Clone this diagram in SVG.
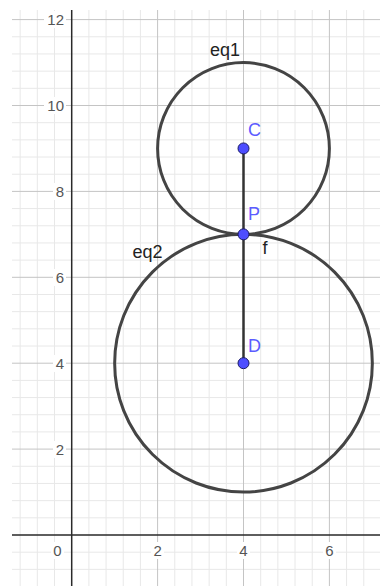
<svg xmlns="http://www.w3.org/2000/svg" width="380" height="586" viewBox="0 0 380 586">
<style>
.minor{stroke:#e8e8e8;stroke-width:1;fill:none}
.major{stroke:#c4c4c4;stroke-width:1;fill:none}
.axis{stroke:#2a2a2a;stroke-width:1.5;fill:none}
.tick{font-family:"Liberation Sans",Arial,sans-serif;font-size:15px;fill:#555}
.tbg{fill:#fff}
.curve{stroke:#444;stroke-width:3;fill:none}
.seg{stroke:#333;stroke-width:2.5;fill:none}
.pt{fill:#4d4dff;stroke:#1a1a66;stroke-width:1}
.plab{font-family:"Liberation Sans",Arial,sans-serif;font-size:18px;fill:#5c5cff}
.olab{font-family:"Liberation Sans",Arial,sans-serif;font-size:18px;fill:#222}
</style>
<rect width="380" height="586" fill="#fff"/>
<g id="grid">
<path class="minor" d="M20.16 10V586M37.34 10V586M54.52 10V586M88.88 10V586M106.06 10V586M123.24 10V586M140.42 10V586M174.78 10V586M191.96 10V586M209.14 10V586M226.32 10V586M260.68 10V586M277.86 10V586M295.04 10V586M312.22 10V586M346.58 10V586M363.76 10V586"/>
<path class="minor" d="M12 569.36H380M12 552.18H380M12 517.82H380M12 500.64H380M12 483.46H380M12 466.28H380M12 431.92H380M12 414.74H380M12 397.56H380M12 380.38H380M12 346.02H380M12 328.84H380M12 311.66H380M12 294.48H380M12 260.12H380M12 242.94H380M12 225.76H380M12 208.58H380M12 174.22H380M12 157.04H380M12 139.86H380M12 122.68H380M12 88.32H380M12 71.14H380M12 53.96H380M12 36.78H380"/>
<path class="major" d="M157.6 10V586M243.5 10V586M329.4 10V586M12 449.1H380M12 363.2H380M12 277.3H380M12 191.4H380M12 105.5H380M12 19.6H380"/>
<path class="axis" d="M71.7 10V586M12 535H380"/>
</g>
<g id="ticks">
<rect class="tbg" x="44" y="11" width="22" height="17"/>
<text class="tick" x="64" y="25.2" text-anchor="end">12</text>
<rect class="tbg" x="44" y="97" width="22" height="17"/>
<text class="tick" x="64" y="111.1" text-anchor="end">10</text>
<rect class="tbg" x="53" y="183" width="13" height="17"/>
<text class="tick" x="64" y="197" text-anchor="end">8</text>
<rect class="tbg" x="53" y="269" width="13" height="17"/>
<text class="tick" x="64" y="282.9" text-anchor="end">6</text>
<rect class="tbg" x="53" y="355" width="13" height="17"/>
<text class="tick" x="64" y="368.8" text-anchor="end">4</text>
<rect class="tbg" x="53" y="441" width="13" height="17"/>
<text class="tick" x="64" y="454.7" text-anchor="end">2</text>
<rect class="tbg" x="51" y="542" width="13" height="17"/>
<text class="tick" x="57.5" y="555.5" text-anchor="middle">0</text>
<rect class="tbg" x="151" y="542" width="13" height="17"/>
<text class="tick" x="157.6" y="555.5" text-anchor="middle">2</text>
<rect class="tbg" x="237" y="542" width="13" height="17"/>
<text class="tick" x="243.5" y="555.5" text-anchor="middle">4</text>
<rect class="tbg" x="323" y="542" width="13" height="17"/>
<text class="tick" x="329.4" y="555.5" text-anchor="middle">6</text>
</g>
<g id="eq1">
<circle class="curve" cx="243.5" cy="148.45" r="85.9"/>
<text class="olab" x="210" y="56">eq1</text>
</g>
<g id="eq2">
<circle class="curve" cx="243.5" cy="363.2" r="128.85"/>
<text class="olab" x="132.5" y="258">eq2</text>
</g>
<g id="connectors">
<path id="f" class="seg" d="M243.5 148.45V363.2"/>
<text class="olab" x="262.5" y="254">f</text>
</g>
<g id="C">
<circle class="pt" cx="243.5" cy="148.45" r="5.5"/>
<text class="plab" x="248" y="135.5">C</text>
</g>
<g id="P">
<circle class="pt" cx="243.5" cy="234.35" r="5.5"/>
<text class="plab" x="248" y="219.5">P</text>
</g>
<g id="D">
<circle class="pt" cx="243.5" cy="363.2" r="5.5"/>
<text class="plab" x="248" y="351.5">D</text>
</g>
</svg>
